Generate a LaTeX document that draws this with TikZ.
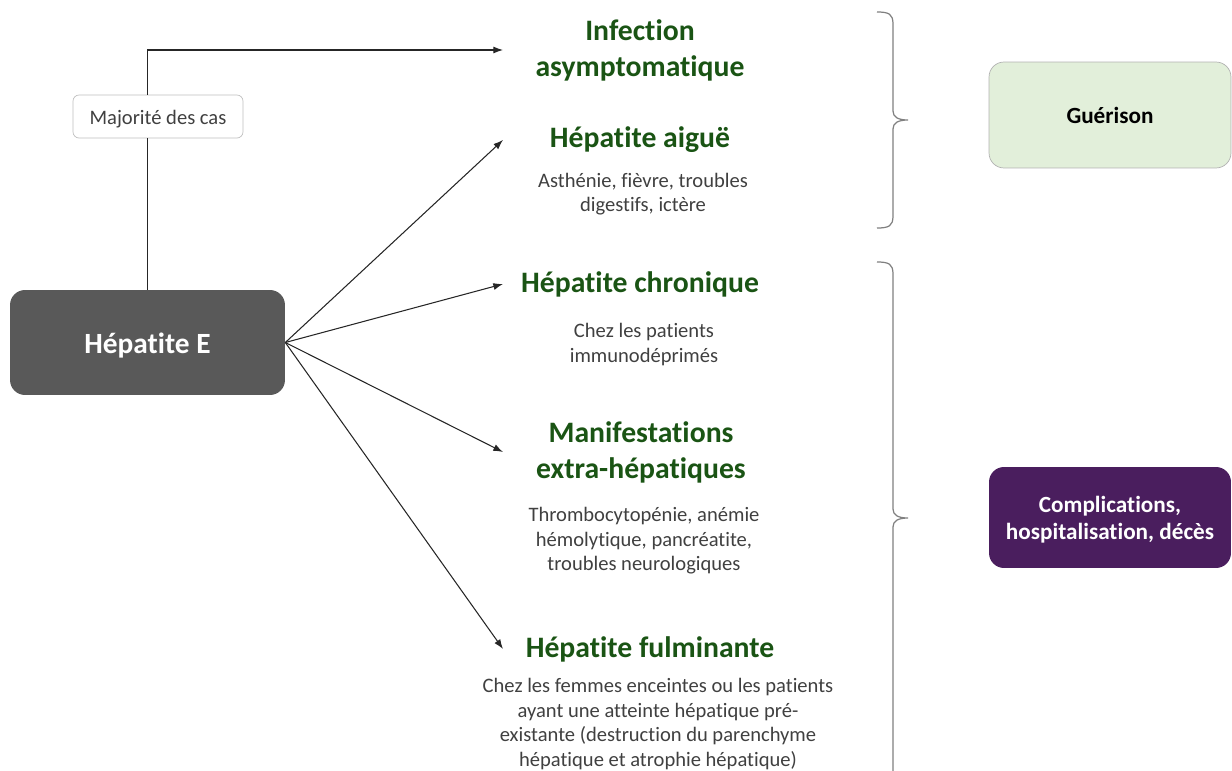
\documentclass[tikz,border=0pt]{standalone}
\usepackage{fontspec}
\setmainfont{Carlito}[Ligatures={NoCommon}]
\usepackage{tikz}
\usetikzlibrary{arrows.meta}
\definecolor{titlegreen}{RGB}{26,84,20}
\definecolor{subgrey}{RGB}{64,64,64}
\definecolor{boxgrey}{RGB}{89,89,89}
\definecolor{curegreen}{RGB}{226,239,218}
\definecolor{complpurple}{RGB}{74,30,94}
\definecolor{bracegrey}{RGB}{128,128,128}
\definecolor{linegrey}{RGB}{38,38,38}

\begin{document}
\begin{tikzpicture}[x=0.02cm,y=-0.02cm,>={Latex[length=5.5pt,width=4pt]}]
			\tikzstyle{every node}+=[inner sep=0pt]
			\tikzstyle{title}=[text=titlegreen,font=\fontsize{16.9}{20.5}\selectfont\bfseries,align=center]
			\tikzstyle{detail}=[text=subgrey,font=\fontsize{11.7}{13.9}\selectfont,align=center]
			\tikzstyle{outcome}=[rounded corners=0.3cm,minimum width=4.84cm,font=\fontsize{13.2}{15.4}\selectfont\bfseries,align=center]
			\tikzstyle{link}=[linegrey,line width=0.6pt]
			\tikzstyle{curly}=[bracegrey,line width=0.7pt]
			\useasboundingbox (0,0) rectangle (1232,771);
			\node [fill=boxgrey,rounded corners=0.3cm,minimum width=5.5cm,minimum height=2.1cm,text=white,font=\fontsize{16.7}{20}\selectfont\bfseries] (hepe) at (147.5,342.5) {\raisebox{-1.7pt}[\height][\depth]{Hépatite E}};
			\node [draw=black!25,fill=white,rounded corners=0.12cm,minimum width=3.4cm,minimum height=0.86cm,text=subgrey,font=\fontsize{11.7}{13.9}\selectfont] (majorite) at (158,116.5) {\raisebox{-1.6pt}[\height][\depth]{Majorité des cas}};
			\coordinate (tip) at (503,0);
			\node [title] (infection) at (640,50) {Infection\\asymptomatique};
			\node [title] (aigue) at (640,140) {Hépatite aiguë};
			\node [detail] (aiguetxt) at (643,194) {Asthénie, fièvre, troubles\\digestifs, ictère};
			\node [title] (chronique) at (640,284) {Hépatite chronique};
			\node [detail] (chroniquetxt) at (644,344.5) {Chez les patients\\immunodéprimés};
			\node [title] (manif) at (641,452) {Manifestations\\extra-hépatiques};
			\node [detail] (maniftxt) at (644,541) {Thrombocytopénie, anémie\\hémolytique, pancréatite,\\troubles neurologiques};
			\node [title] (fulmi) at (650,649) {Hépatite fulminante};
			\node [detail] (fulmitxt) at (658,724) {Chez les femmes enceintes ou les patients\\ayant une atteinte hépatique pré-\\existante (destruction du parenchyme\\hépatique et atrophie hépatique)};
			\node [outcome,draw=black!30,fill=curegreen,minimum height=2.12cm,text=black] (guerison) at (1110,115) {Guérison};
			\node [outcome,fill=complpurple,minimum height=2.02cm,text=white] (compl) at (1110,517.5) {\raisebox{-1pt}[\height][\depth]{\parbox{4.5cm}{\centering Complications,\\hospitalisation, décès}}};
			\draw [link] (hepe.north) -- (majorite.south -| hepe.north);
			\draw [link,->] (majorite.north -| hepe.north) |- (tip |- infection);
			\draw [link,->] (hepe.east) -- (tip |- aigue);
			\draw [link,->] (hepe.east) -- (tip |- chronique);
			\draw [link,->] (hepe.east) -- (tip |- manif);
			\draw [link,->] (hepe.east) -- (tip |- fulmi);
			\draw [curly] (877,12) .. controls (889,12) and (893,14) .. (893,24) -- (893,111) .. controls (893,117) and (898,120) .. (908,120) .. controls (898,120) and (893,123) .. (893,129) -- (893,216) .. controls (893,226) and (889,228) .. (877,228);
			\draw [curly] (877,262) .. controls (889,262) and (893,264) .. (893,274) -- (893,509) .. controls (893,515) and (898,518) .. (908,518) .. controls (898,518) and (893,521) .. (893,527) -- (893,771);
\end{tikzpicture}
\end{document}
